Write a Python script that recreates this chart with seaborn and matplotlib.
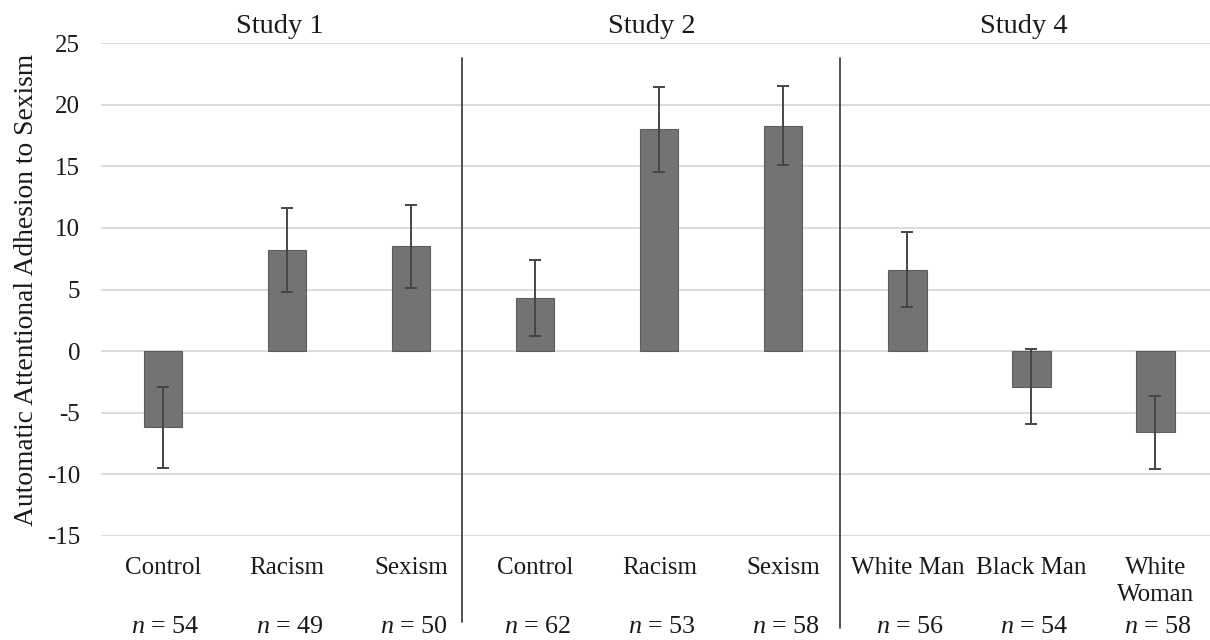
import numpy as np
import pandas as pd
import seaborn as sns
import matplotlib.pyplot as plt

# values
conditions = ["Control", "Racism", "Sexism",
              "Control", "Racism", "Sexism",
              "White Man", "Black Man", "White\nWoman"]
studies = ["Study 1", "Study 2", "Study 4"]
means = [-6.2, 8.2, 8.5, 4.3, 18.0, 18.3, 6.6, -2.9, -6.6]
errors = [3.3, 3.4, 3.4, 3.1, 3.45, 3.2, 3.05, 3.05, 2.95]
n_sizes = [54, 49, 50, 62, 53, 58, 56, 54, 58]

keys = [f"c{i}" for i in range(len(conditions))]
df = pd.DataFrame({"key": keys, "mean": means})

sns.set_style("white")
plt.rcParams['font.family'] = ['Liberation Serif', 'DejaVu Serif']
plt.rcParams['axes.unicode_minus'] = False
plt.rcParams['mathtext.fontset'] = 'custom'
plt.rcParams['mathtext.it'] = 'Liberation Serif:italic'
plt.rcParams['mathtext.rm'] = 'Liberation Serif'
txt = "#1a1a1a"
plt.rcParams['text.color'] = txt
plt.rcParams['axes.labelcolor'] = txt
plt.rcParams['xtick.color'] = txt
plt.rcParams['ytick.color'] = txt

fig = plt.figure(figsize=(12.1, 6.4), dpi=100)
ax = fig.add_axes([101 / 1210, (640 - 535.7) / 640, 1109 / 1210, (535.7 - 43.3) / 640])

sns.barplot(data=df, x="key", y="mean", order=keys, color="#737373",
            saturation=1, width=0.31, edgecolor="#5e5e5e", linewidth=0.8,
            errorbar=None, ax=ax, zorder=2)
ax.errorbar(np.arange(len(means)), means, yerr=errors, fmt="none",
            ecolor="#454545", elinewidth=1.4, capsize=4, capthick=1.4, zorder=3)

ax.set_ylim(-15, 25)
ax.set_xlim(-0.5, 8.44)
ax.set_yticks(range(-15, 26, 5))
ax.yaxis.grid(True, color="#d9d9d9", linewidth=1.3, zorder=0)
ax.set_axisbelow(True)
for s in ax.spines.values():
    s.set_visible(False)
ax.tick_params(axis="both", length=0)
ax.tick_params(axis="y", labelsize=18, pad=15)
ax.set_xticks(range(len(conditions)))
ax.set_xticklabels(conditions, fontsize=18, linespacing=1.32)
ax.tick_params(axis="x", pad=15)
ax.set_xlabel("")
ax.set_ylabel("Automatic Attentional Adhesion to Sexism", fontsize=19.8, labelpad=6)

# group separators
for xs, y0 in [(2.414, -22.0), (5.46, -22.5)]:
    ax.plot([xs, xs], [23.8, y0], color="#444444", linewidth=1.3,
            clip_on=False, zorder=4)

# study titles
for i, st in enumerate(studies):
    ax.text(3 * i + 1 - 0.06, 26.4, st, ha="center", va="center", fontsize=20.5)

# sample sizes
for i, n in enumerate(n_sizes):
    ax.text(i + 0.02, -22.4, f"$n$ = {n}", ha="center", va="center",
            fontsize=18.8, clip_on=False)

fig.savefig("out.png", dpi=100)
